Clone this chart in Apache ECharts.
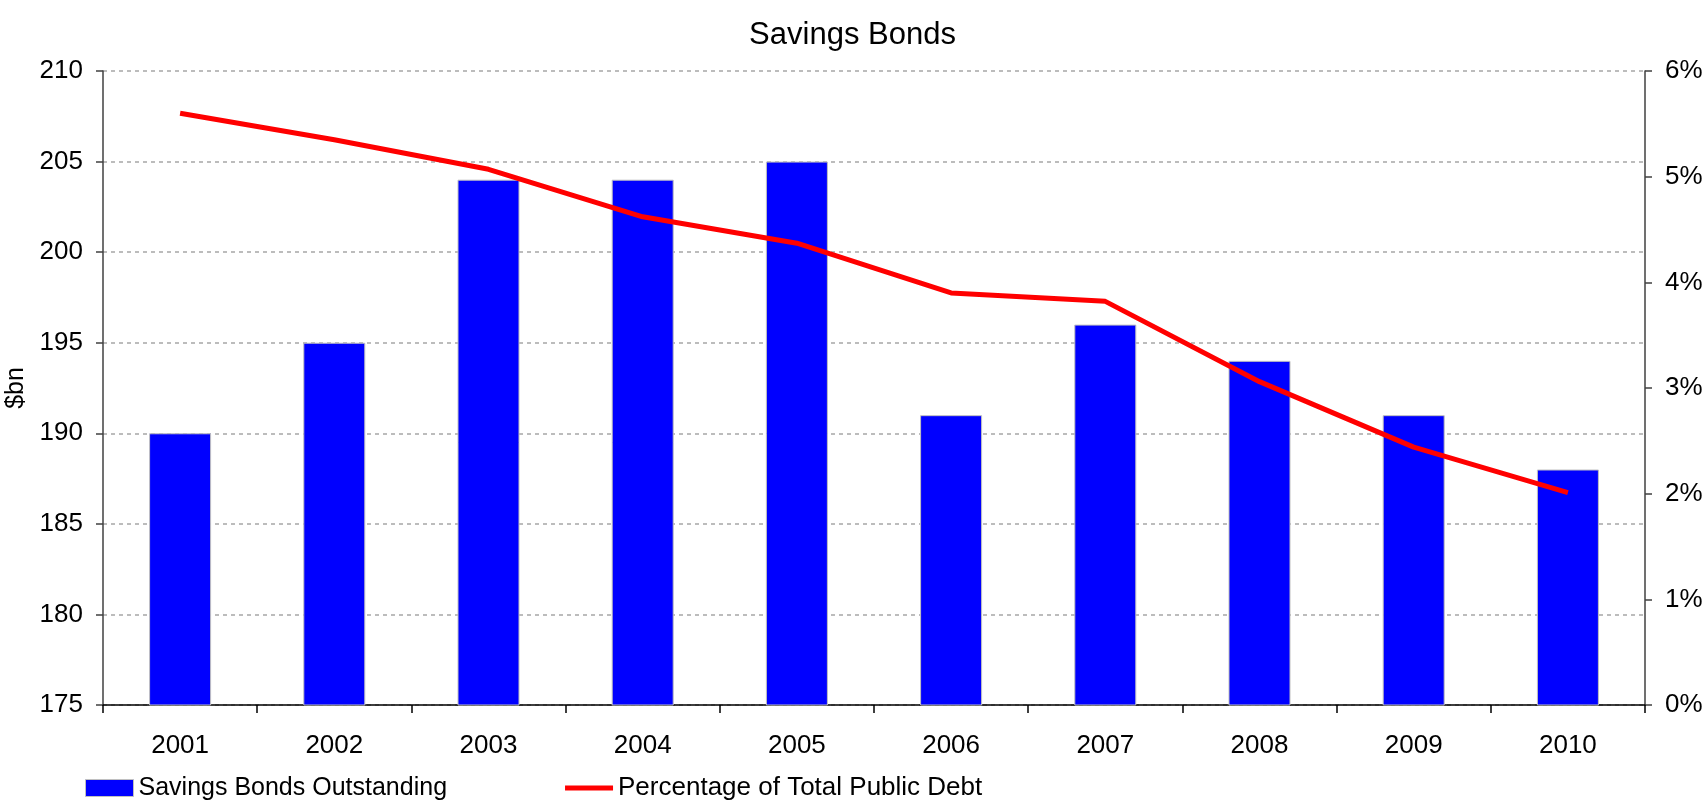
<!DOCTYPE html>
<html>
<head>
<meta charset="utf-8">
<script src="https://cdn.jsdelivr.net/npm/echarts@6/dist/echarts.min.js"></script>
<style>
html,body{margin:0;padding:0;background:#fff;}
#chart{width:1705px;height:805px;}
</style>
</head>
<body>
<div id="chart"></div>
<script>
const categories = ['2001','2002','2003','2004','2005','2006','2007','2008','2009','2010'];
const bondsOutstanding = [190, 195, 204, 204, 205, 191, 196, 194, 191, 188];
const pctPublicDebt = [5.60, 5.35, 5.07, 4.62, 4.37, 3.90, 3.82, 3.06, 2.44, 2.01];
const barName = 'Savings Bonds Outstanding';
const lineName = 'Percentage of Total Public Debt';

const FONT = '"Liberation Sans", Arial, sans-serif';
const chart = echarts.init(document.getElementById('chart'));
chart.setOption({
  animation: false,
  backgroundColor: '#ffffff',
  textStyle: { fontFamily: FONT, color: '#000' },
  title: {
    text: 'Savings Bonds',
    left: 'center',
    top: 15,
    textStyle: { fontFamily: FONT, fontSize: 31, fontWeight: 'normal', color: '#000' }
  },
  legend: {
    left: 80,
    top: 770,
    itemWidth: 48,
    itemHeight: 17,
    itemGap: 118,
    textStyle: { fontFamily: FONT, fontSize: 25, color: '#000' },
    data: [
      { name: barName, icon: 'rect', itemStyle: { color: '#0000ff', borderColor: '#c0c0c0', borderWidth: 1 } },
      { name: lineName, icon: 'path://M0,0 L48,0 L48,5 L0,5 Z', itemStyle: { color: '#ff0000' }, textStyle: { fontSize: 26 } }
    ]
  },
  grid: { left: 103, right: 60, top: 71, bottom: 100, containLabel: false, outerBoundsMode: 'none' },
  xAxis: {
    type: 'category',
    data: categories,
    boundaryGap: true,
    axisLine: { lineStyle: { color: '#000', width: 1.5 } },
    axisTick: { show: true, length: 8, lineStyle: { color: '#000', width: 1.5 } },
    axisLabel: { fontFamily: FONT, fontSize: 26, color: '#000', margin: 28 }
  },
  yAxis: [
    {
      type: 'value',
      min: 175, max: 210, interval: 5,
      name: '$bn',
      nameLocation: 'middle',
      nameGap: 68,
      nameTextStyle: { fontFamily: FONT, fontSize: 25, color: '#000' },
      axisLine: { show: true, lineStyle: { color: '#404040', width: 1.5 } },
      axisTick: { show: true, length: 7, lineStyle: { color: '#404040', width: 1.5 } },
      axisLabel: { fontFamily: FONT, fontSize: 26, color: '#000', margin: 20 },
      splitLine: { show: true, lineStyle: { color: '#a6a6a6', width: 1.5, type: [4, 4] } }
    },
    {
      type: 'value',
      min: 0, max: 6, interval: 1,
      position: 'right',
      axisLine: { show: true, lineStyle: { color: '#404040', width: 1.5 } },
      axisTick: { show: true, length: 7, lineStyle: { color: '#404040', width: 1.5 } },
      axisLabel: { fontFamily: FONT, fontSize: 26, color: '#000', margin: 20, formatter: '{value}%' },
      splitLine: { show: false }
    }
  ],
  series: [
    {
      name: barName,
      type: 'bar',
      yAxisIndex: 0,
      data: bondsOutstanding,
      barWidth: 62,
      itemStyle: { color: '#0000ff', borderColor: '#c0c0c0', borderWidth: 1 }
    },
    {
      name: lineName,
      type: 'line',
      yAxisIndex: 1,
      data: pctPublicDebt,
      symbol: 'none',
      showSymbol: false,
      lineStyle: { color: '#ff0000', width: 5 },
      itemStyle: { color: '#ff0000' },
      z: 5
    }
  ]
});
</script>
</body>
</html>
